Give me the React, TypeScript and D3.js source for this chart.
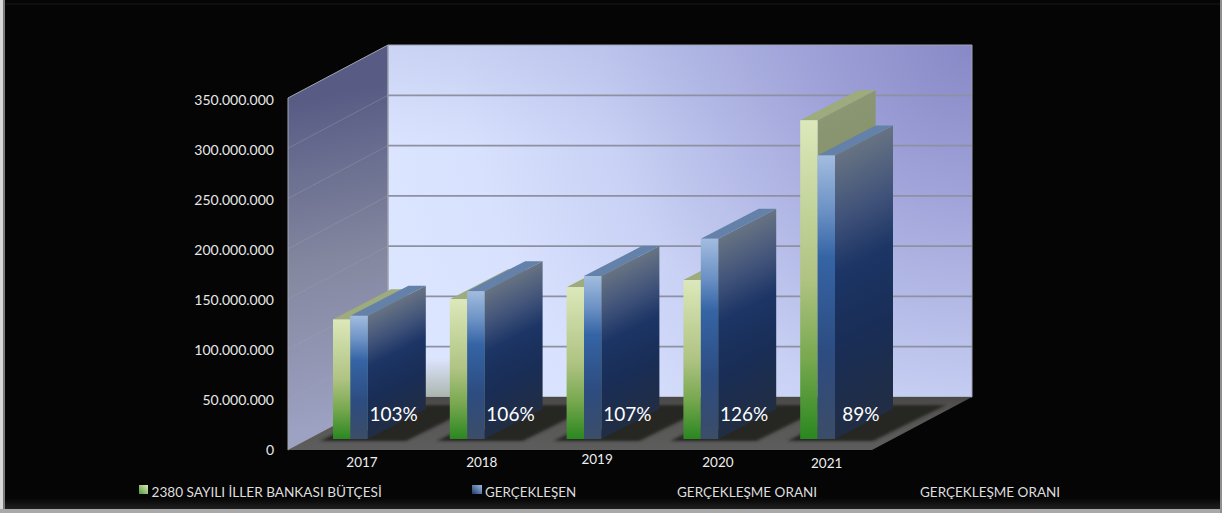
import React from "react";
import * as d3 from "d3";

// Budget and realised amounts per year, in Turkish lira.
const years = ["2017", "2018", "2019", "2020", "2021"];
const budget = [119000000, 139000000, 151000000, 158000000, 317000000];
const realised = [122500000, 147000000, 162000000, 199000000, 282000000];
const rates = ["103%", "106%", "107%", "126%", "89%"];
const yearNudgeX = [0, 3, 1.5, 5.5, -2.5];
const yearNudgeY = [0, 0, -3, 0, 1];
const axisTicks = [0, 50000000, 100000000, 150000000, 200000000, 250000000, 300000000, 350000000];
const legendItems = ["2380 SAYILI İLLER BANKASI BÜTÇESİ", "GERÇEKLEŞEN", "GERÇEKLEŞME ORANI", "GERÇEKLEŞME ORANI"];

const W = 1222;
const H = 513;
const FONT = "Lato, 'Open Sans', sans-serif";

// Oblique projection of the plot box.
const left = 288;
const right = 872;
const base = 450;
const top = 98;
const wallDx = 100;
const wallDy = 53;
const barLift = 11;
const barDepthX = 58;
const barDepthY = 30;
const barInset = 45;
const barWidth = 17.4;

const x = d3.scaleBand<string>().domain(years).range([left, right]);
const y = d3.scaleLinear().domain([0, 350000000]).range([base, top]);
const tickY = d3.scaleLinear().domain([0, 350000000]).range([450, 100]);
const dotted = d3.formatLocale({ decimal: ",", thousands: ".", grouping: [3], currency: ["", ""] }).format(",d");

const poly = (pts: [number, number][]) => (d3.line()(pts) || "") + "Z";

function Bar({ x0, value, id, front, sideStops, topFill }: {
  x0: number; value: number; id: string; front: string; sideStops: [number, string][]; topFill: string;
}) {
  const yBase = base - barLift;
  const yTop = y(value) - barLift;
  const h = yBase - yTop;
  const x1 = x0 + barWidth;
  // Side shading follows the slope of the receding top edge.
  const k = (h * barDepthX) / (barDepthX * barDepthX + barDepthY * barDepthY);
  return (
    <g>
      <defs>
        <linearGradient
          id={id}
          gradientUnits="userSpaceOnUse"
          x1={x1}
          y1={yTop}
          x2={x1 + barDepthY * k}
          y2={yTop + barDepthX * k}
        >
          {sideStops.map(([o, c]) => <stop key={o} offset={o} stopColor={c} />)}
        </linearGradient>
      </defs>
      <path
        d={poly([[x1, yTop], [x1 + barDepthX, yTop - barDepthY], [x1 + barDepthX, yBase - barDepthY], [x1, yBase]])}
        fill={`url(#${id})`}
      />
      <path
        d={poly([[x0, yTop], [x0 + barDepthX, yTop - barDepthY], [x1 + barDepthX, yTop - barDepthY], [x1, yTop]])}
        fill={topFill}
      />
      <rect x={x0} y={yTop} width={barWidth} height={h} fill={`url(#${front})`} />
    </g>
  );
}

export default function App() {
  const wall: [number, number][] = [
    [left + wallDx, top - wallDy], [right + wallDx, top - wallDy],
    [right + wallDx, base - wallDy], [left + wallDx, base - wallDy],
  ];
  const side: [number, number][] = [
    [left, top], [left + wallDx, top - wallDy], [left + wallDx, base - wallDy], [left, base],
  ];
  const floor: [number, number][] = [
    [left, base], [right, base], [right + wallDx, base - wallDy], [left + wallDx, base - wallDy],
  ];
  const shadowBottom = base - 9;
  const shadowTop = base - 45;
  const shadowReach = 73;

  return (
    <svg
      width={W}
      height={H}
      viewBox={`0 0 ${W} ${H}`}
      style={{ position: "absolute", left: 0, top: 0, display: "block" }}
      fontFamily={FONT}
    >
      <defs>
        <radialGradient id="wallFill" gradientUnits="userSpaceOnUse" cx={right + wallDx} cy={top - wallDy} r={600}>
          <stop offset={0} stopColor="#8788c6" />
          <stop offset={0.25} stopColor="#a0a3d9" />
          <stop offset={0.5} stopColor="#bbc2eb" />
          <stop offset={0.62} stopColor="#c9d1f5" />
          <stop offset={0.85} stopColor="#d8e1fd" />
          <stop offset={1} stopColor="#dce5ff" />
        </radialGradient>
        <linearGradient id="wallDim" x1="0" y1="0" x2="0" y2="1">
          <stop offset={0} stopColor="#8a8fca" stopOpacity={0.2} />
          <stop offset={0.3} stopColor="#8a8fca" stopOpacity={0} />
        </linearGradient>
        <linearGradient id="sideFill" gradientUnits="userSpaceOnUse" x1={300} y1={100} x2={360} y2={420}>
          <stop offset={0} stopColor="#585c85" />
          <stop offset={0.5} stopColor="#83879f" />
          <stop offset={1} stopColor="#9da1c2" />
        </linearGradient>
        <linearGradient id="floorFill" x1="0" y1="0" x2="0" y2="1">
          <stop offset={0} stopColor="#494846" />
          <stop offset={0.25} stopColor="#565553" />
          <stop offset={1} stopColor="#5d5d5d" />
        </linearGradient>
        <linearGradient id="greenFront" x1="0" y1="0" x2="0" y2="1">
          <stop offset={0} stopColor="#dce8ba" />
          <stop offset={0.5} stopColor="#afc382" />
          <stop offset={0.75} stopColor="#78a84f" />
          <stop offset={1} stopColor="#2a8720" />
        </linearGradient>
        <linearGradient id="blueFront" x1="0" y1="0" x2="0" y2="1">
          <stop offset={0} stopColor="#a2bcdf" />
          <stop offset={0.2} stopColor="#6a90c4" />
          <stop offset={0.36} stopColor="#3564a5" />
          <stop offset={0.7} stopColor="#2d4c80" />
          <stop offset={1} stopColor="#3b4d68" />
        </linearGradient>
        <linearGradient id="legendGreen" x1="1" y1="0" x2="0" y2="1">
          <stop offset={0} stopColor="#dfeabd" />
          <stop offset={1} stopColor="#4e9a35" />
        </linearGradient>
        <linearGradient id="legendBlue" x1="1" y1="0" x2="0" y2="1">
          <stop offset={0} stopColor="#9fb9dc" />
          <stop offset={1} stopColor="#1d3b70" />
        </linearGradient>
        <linearGradient id="frameBottom" x1="0" y1="0" x2="0" y2="1">
          <stop offset={0} stopColor="#050505" />
          <stop offset={1} stopColor="#1f1f1f" />
        </linearGradient>
        <linearGradient id="wallTint" x1="0" y1="0" x2="0" y2="1">
          <stop offset={0} stopColor="#a3ad9f" stopOpacity={0} />
          <stop offset={1} stopColor="#a3ad9f" stopOpacity={0.85} />
        </linearGradient>
        <filter id="soft" x="-20%" y="-20%" width="140%" height="140%">
          <feGaussianBlur stdDeviation="1.6" />
        </filter>
      </defs>

      {/* Slide frame */}
      <rect width={W} height={H} fill="#050505" />
      <rect x={5} y={3} width={W - 7} height={2} fill="#0e0e0e" />
      <rect x={5} y={498} width={W - 7} height={11} fill="url(#frameBottom)" />
      <rect x={0} y={0} width={3.5} height={H} fill="#d9d9d9" />
      <rect x={3.5} y={0} width={1.5} height={H} fill="#7d7d7d" />
      <rect x={0} y={509} width={W} height={4} fill="#a9a9a9" />
      <rect x={1220} y={0} width={2} height={H} fill="#8f8f8f" />

      {/* Box walls */}
      <path d={poly(wall)} fill="url(#wallFill)" />
      <path d={poly(wall)} fill="url(#wallDim)" />
      <rect x={420} y={358} width={36} height={39} fill="url(#wallTint)" />
      <path d={poly(side)} fill="url(#sideFill)" stroke="#a2a5b0" strokeWidth={1} />
      <path d={poly(wall)} fill="none" stroke="#9ea3ae" strokeWidth={1} />

      {/* Gridlines across both walls */}
      {axisTicks.filter((t) => t > 0 && t < 350000000).map((t) => (
        <g key={t}>
          <line x1={left} y1={y(t)} x2={left + wallDx} y2={y(t) - wallDy} stroke="#a0a3b0" strokeOpacity={0.35} strokeWidth={1} />
          <line x1={left + wallDx} y1={y(t) - wallDy} x2={right + wallDx} y2={y(t) - wallDy} stroke="#8d91a2" strokeWidth={1.8} />
        </g>
      ))}

      {/* Floor and the shadows cast on it */}
      <path d={poly(floor)} fill="url(#floorFill)" />
      {years.map((yr) => {
        const b = (x(yr) as number) + barInset;
        return (
          <path
            key={yr}
            d={poly([
              [b - 13, shadowBottom],
              [b + 73, shadowBottom],
              [b + 73 + shadowReach, shadowTop],
              [b - 13 + shadowReach, shadowTop],
            ])}
            fill="#282623"
            filter="url(#soft)"
          />
        );
      })}

      {/* Bars, each year drawn budget first so the realised bar sits in front */}
      {years.map((yr, i) => {
        const b = (x(yr) as number) + barInset;
        return (
          <g key={yr}>
            <Bar
              x0={b}
              value={budget[i]}
              id={`greenSide${i}`}
              front="greenFront"
              sideStops={[[0, "#8b9672"], [1, "#6f8a52"]]}
              topFill="#9dab7d"
            />
            <Bar
              x0={b + barWidth}
              value={realised[i]}
              id={`blueSide${i}`}
              front="blueFront"
              sideStops={[[0, "#677383"], [0.22, "#42547a"], [0.42, "#1c3565"], [0.7, "#192d55"], [1, "#212d43"]]}
              topFill="#6481aa"
            />
            <text
              x={(x(yr) as number) + 105.7}
              y={421}
              textAnchor="middle"
              fontSize={19}
              fill="#fff"
            >
              {rates[i]}
            </text>
            <text
              x={(x(yr) as number) + 74 + yearNudgeX[i]}
              y={467 + yearNudgeY[i]}
              textAnchor="middle"
              fontSize={13.5}
              fill="#eee"
            >
              {yr}
            </text>
          </g>
        );
      })}

      {/* Value axis labels */}
      {axisTicks.map((t) => (
        <text key={t} x={274} y={tickY(t)} dy="0.36em" textAnchor="end" fontSize={14} fill="#e8e8e8">
          {dotted(t)}
        </text>
      ))}

      {/* Legend */}
      <rect x={139} y={485} width={9} height={9} fill="url(#legendGreen)" />
      <text x={151.5} y={497} fontSize={13.6} fill="#dedede">{legendItems[0]}</text>
      <rect x={472} y={485} width={10} height={9} fill="url(#legendBlue)" />
      <text x={485} y={497} fontSize={13.4} fill="#dedede">{legendItems[1]}</text>
      <text x={677} y={497} fontSize={13.5} fill="#dedede">{legendItems[2]}</text>
      <text x={920} y={497} fontSize={13.5} fill="#dedede">{legendItems[3]}</text>
    </svg>
  );
}
